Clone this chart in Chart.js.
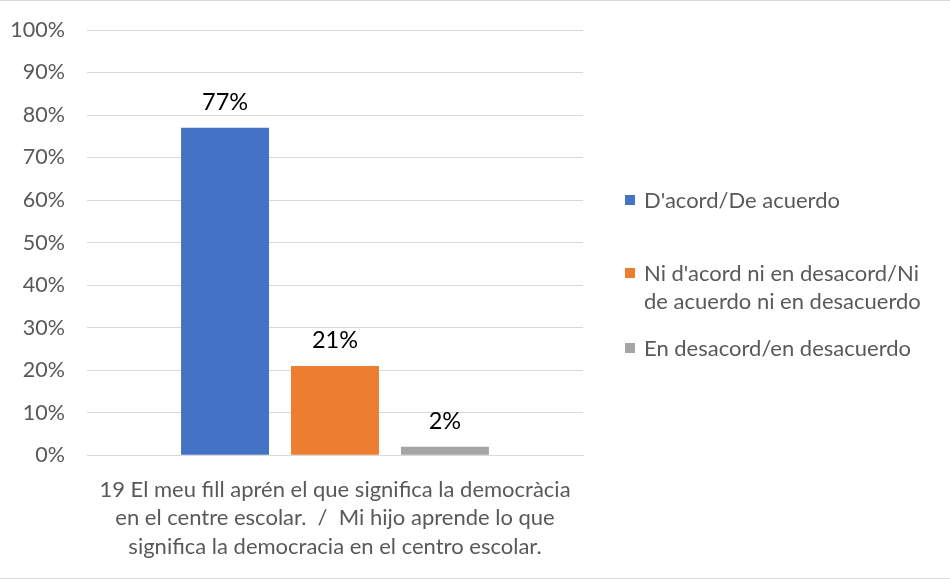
<!DOCTYPE html>
<html>
<head>
<meta charset="utf-8">
<script src="https://cdn.jsdelivr.net/npm/chart.js@4/dist/chart.umd.min.js"></script>
<style>
  html, body { margin: 0; padding: 0; background: #fff; }
  #wrap {
    position: relative; width: 950px; height: 577px;
    border-top: 1px solid #d9d9d9; border-bottom: 1px solid #d9d9d9;
    font-family: Lato, "Open Sans", sans-serif;
  }
  #chart { position: absolute; left: 0; top: 0; }
  #legend { position: absolute; left: 625px; top: 0; color: #595959; font-size: 22px; }
  .item { position: absolute; left: 0; white-space: nowrap; line-height: 28px; }
  .sw { position: absolute; left: 0; top: 9px; width: 10px; height: 10px; }
  .txt { margin-left: 19px; }
</style>
</head>
<body>
<div id="wrap">
  <canvas id="chart" width="950" height="577"></canvas>
  <div id="legend"></div>
</div>
<script>
// ─── Data ─────────────────────────────────────
const categoryLabel = [
  '19 El meu fill aprén el que significa la democràcia',
  'en el centre escolar.  /  Mi hijo aprende lo que',
  'significa la democracia en el centro escolar.',
];
const seriesNames = [
  "D'acord/De acuerdo",
  "Ni d'acord ni en desacord/Ni de acuerdo ni en desacuerdo",
  'En desacord/en desacuerdo',
];
const seriesValues = [77, 21, 2];
const seriesColors = ['#4472c4', '#ed7d31', '#a5a5a5'];
const yTicks = [0, 10, 20, 30, 40, 50, 60, 70, 80, 90, 100];

// ─── Value labels above bars ──────────────────
const valueLabels = {
  id: 'valueLabels',
  afterDatasetsDraw(chart) {
    const { ctx } = chart;
    ctx.save();
    ctx.font = '23.5px Lato, "Open Sans", sans-serif';
    ctx.fillStyle = '#000';
    ctx.textAlign = 'center';
    ctx.textBaseline = 'bottom';
    chart.data.datasets.forEach((ds, i) => {
      const bar = chart.getDatasetMeta(i).data[0];
      ctx.fillText(ds.data[0] + '%', bar.x, bar.y - 14);
    });
    ctx.restore();
  },
};

new Chart(document.getElementById('chart'), {
  type: 'bar',
  data: {
    labels: [categoryLabel],
    datasets: seriesNames.map((name, i) => ({
      label: name,
      data: [seriesValues[i]],
      backgroundColor: seriesColors[i],
      categoryPercentage: 0.665,
      barPercentage: 0.8,
    })),
  },
  options: {
    responsive: false,
    animation: false,
    layout: { padding: { left: 12, right: 367, top: 29, bottom: 5 } },
    plugins: { legend: { display: false }, tooltip: { enabled: false } },
    scales: {
      x: {
        grid: { display: false },
        border: { color: '#d9d9d9' },
        ticks: { color: '#595959', font: { size: 22, family: 'Lato', lineHeight: 1.3 }, padding: 12 },
        // long wrapped category label must not squeeze the plot sideways
        afterFit(axis) { axis.paddingLeft = 0; axis.paddingRight = 0; },
      },
      y: {
        min: 0, max: 100,
        afterBuildTicks(axis) { axis.ticks = yTicks.map(v => ({ value: v })); },
        afterFit(axis) { axis.width = 75; axis.paddingTop = 0; axis.paddingBottom = 0; },
        grid: { color: '#d9d9d9', drawTicks: false },
        border: { display: false },
        ticks: { color: '#595959', font: { size: 21.5, family: 'Lato' }, padding: 22, callback: v => v + '%' },
      },
    },
  },
  plugins: [valueLabels],
});

// ─── HTML legend (wrapped like the original) ──
const legendLines = [
  ["D'acord/De acuerdo"],
  ["Ni d'acord ni en desacord/Ni", 'de acuerdo ni en desacuerdo'],
  ['En desacord/en desacuerdo'],
];
const legendTops = [185, 258, 333];
const legend = document.getElementById('legend');
legendLines.forEach((lines, i) => {
  const it = document.createElement('div');
  it.className = 'item';
  it.style.top = legendTops[i] + 'px';
  it.innerHTML = '<span class="sw" style="background:' + seriesColors[i] + '"></span>' +
    '<div class="txt">' + lines.join('<br>') + '</div>';
  legend.appendChild(it);
});
</script>
</body>
</html>
